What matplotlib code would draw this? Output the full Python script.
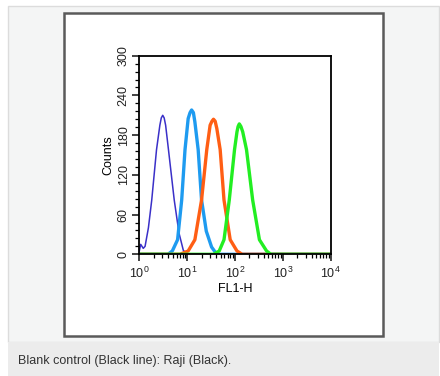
import matplotlib
matplotlib.use('Agg')
import matplotlib.pyplot as plt
from matplotlib.patches import Rectangle
from matplotlib.ticker import MultipleLocator, LogLocator, NullFormatter

plt.rcParams['font.family'] = ['Liberation Sans', 'DejaVu Sans']

# histogram traces (FL1-H value, counts)
blank_x = [1.0, 1.07, 1.21, 1.32, 1.55, 1.82, 2.29, 2.69, 2.88, 3.09, 3.31, 3.55, 4.07, 5.37, 6.76, 8.32, 10.0, 10000]
blank_y = [5, 15, 9, 12, 40, 82, 158, 195, 206, 210, 206, 195, 158, 82, 32, 6, 0, 0]

lblue_x = [1, 3.98, 4.90, 6.31, 7.69, 9.02, 10.5, 11.5, 12.4, 13.5, 14.5, 17.0, 20.0, 25.1, 32.4, 41.7, 10000]
lblue_y = [0, 0, 5, 22, 82, 158, 205, 214, 218, 214, 200, 158, 82, 35, 11, 0, 0]

orange_x = [1, 7.08, 10.5, 14.5, 20.0, 25.7, 30.2, 33.0, 35.5, 38.5, 41.7, 49.0, 58.9, 79.4, 110, 141, 10000]
orange_y = [0, 0, 5, 22, 82, 158, 195, 201, 204, 201, 190, 158, 82, 22, 5, 0, 0]

green_x = [1, 35.5, 46.8, 58.9, 75.9, 97.7, 110, 116, 123, 133, 145, 174, 234, 324, 457, 562, 10000]
green_y = [0, 0, 5, 22, 82, 158, 185, 193, 197, 193, 185, 158, 82, 22, 5, 0, 0]

y_ticks = [0, 60, 120, 180, 240, 300]
caption = 'Blank control (Black line): Raji (Black).'

W, H = 440, 376
fig = plt.figure(figsize=(W / 100, H / 100), dpi=100)
fig.patch.set_facecolor('white')

def box(x0, y0, x1, y1, **kw):
    # pixel coords, y from top
    fig.patches.append(Rectangle((x0 / W, 1 - y1 / H), (x1 - x0) / W, (y1 - y0) / H,
                                 transform=fig.transFigure, zorder=-10, **kw))

box(8, 6, 439, 342, facecolor='#f4f5f5', edgecolor='#dcdcdc', linewidth=1)
box(8, 342, 439, 376, facecolor='#ececec', edgecolor='none')
box(64, 13, 383, 336, facecolor='white', edgecolor='#5a5a5a', linewidth=1.8)
fig.text(18 / W, 1 - 361 / H, caption, fontsize=9, color='#333333', va='center', ha='left')

ax = fig.add_axes([139.3 / W, 1 - 254.3 / H, 191.4 / W, 198.6 / H])
ax.set_facecolor('none')
ax.plot(blank_x, blank_y, color='#3a30c8', lw=1.1)
ax.plot(lblue_x, lblue_y, color='#1e9bf0', lw=2.4)
ax.plot(orange_x, orange_y, color='#ff5e14', lw=2.4)
ax.plot(green_x, green_y, color='#22ee22', lw=2.4)

ax.set_xscale('log')
ax.set_xlim(1, 10000)
ax.set_ylim(0, 300)
ax.set_yticks(y_ticks)
ax.yaxis.set_minor_locator(MultipleLocator(12))
ax.xaxis.set_major_locator(LogLocator(base=10, numticks=10))
ax.xaxis.set_minor_locator(LogLocator(base=10, subs=range(2, 10), numticks=20))
ax.xaxis.set_minor_formatter(NullFormatter())
for lab in ax.get_yticklabels():
    lab.set_rotation(90)
    lab.set_va('center')
ax.tick_params(which='major', length=5, width=1.2, labelsize=9, colors='#222222')
ax.tick_params(which='minor', length=3, width=0.9)
ax.tick_params(axis='y', pad=2)
ax.tick_params(axis='x', pad=3)
for s in ax.spines.values():
    s.set_linewidth(1.3)
ax.set_ylabel('Counts', fontsize=9, labelpad=2)
ax.set_xlabel('FL1-H', fontsize=9, labelpad=2)

fig.savefig('out.png', dpi=100)
